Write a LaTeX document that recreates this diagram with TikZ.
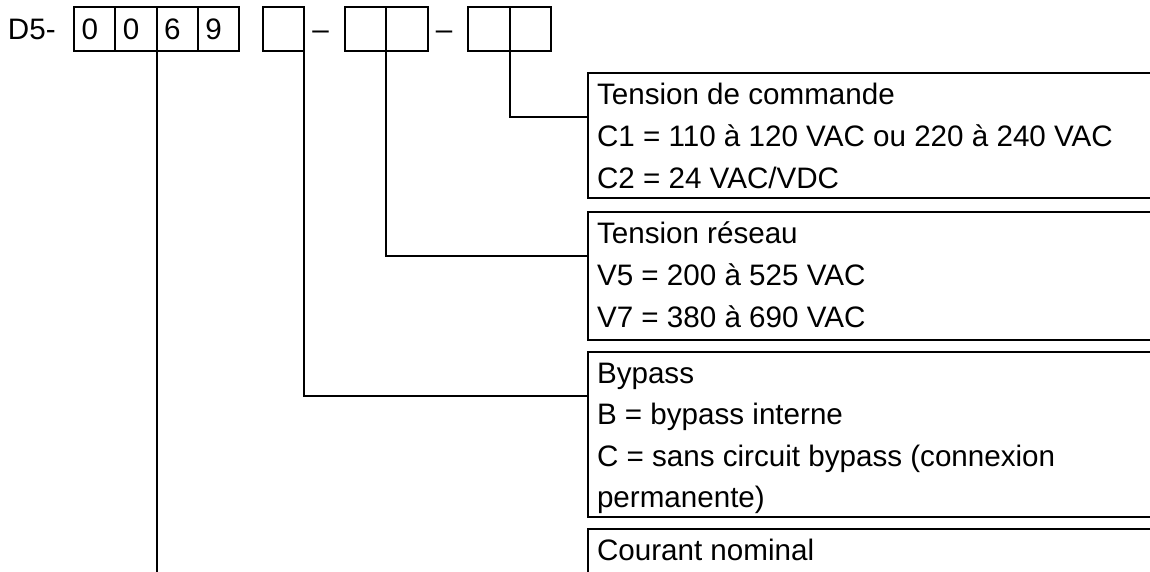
\documentclass[tikz,border=0pt]{standalone}
\usepackage{fontspec}
\setmainfont{Liberation Sans}
\begin{document}
\begin{tikzpicture}[x=1pt,y=-1pt,
  line width=2pt,
  cell/.style={draw, minimum width=41.3pt, minimum height=44pt, inner sep=0pt, outer sep=0pt, anchor=north west},
  box/.style={draw, minimum width=600pt, inner sep=0pt, outer sep=0pt, anchor=north west},
  txt/.style={inner sep=0pt, outer sep=0pt, anchor=base west, font=\fontsize{29.6}{35}\selectfont},
  link/.style={draw, line width=2pt}
]
\useasboundingbox (0,0) rectangle (1150,571);
% prefix
\node[txt] (pre) at (8,39.5) {D5-};
% group 1: 0069
\node[cell] (a1) at (74,7) {};
\node[cell] (a2) at (115.3,7) {};
\node[cell] (a3) at (156.6,7) {};
\node[cell] (a4) at (197.9,7) {};
\node[txt] (t1) at (81.5,39.5) {0};
\node[txt] (t2) at (122.8,39.5) {0};
\node[txt] (t3) at (164.1,39.5) {6};
\node[txt] (t4) at (205.4,39.5) {9};
% group 2
\node[cell] (b1) at (262.5,7) {};
\node[txt, anchor=base] (m1) at (320.5,39.5) {–};
% group 3
\node[cell] (c1) at (345,7) {};
\node[cell] (c2) at (386.3,7) {};
\node[txt, anchor=base] (m2) at (444,39.5) {–};
% group 4
\node[cell] (g1) at (468.3,7) {};
\node[cell] (g2) at (509.6,7) {};
% description boxes
\node[box, minimum height=125pt] (bc) at (588,73) {};
\node[box, minimum height=128pt] (br) at (588,212) {};
\node[box, minimum height=165pt] (bb) at (588,352) {};
\node[box, minimum height=100pt] (bn) at (588,529) {};
% texts
\node[txt] (bc1) at (597,104) {Tension de commande};
\node[txt] (bc2) at (597,146) {C1 = 110 à 120 VAC ou 220 à 240 VAC};
\node[txt] (bc3) at (597,188) {C2 = 24 VAC/VDC};
\node[txt] (br1) at (597,243.5) {Tension réseau};
\node[txt] (br2) at (597,285.5) {V5 = 200 à 525 VAC};
\node[txt] (br3) at (597,327) {V7 = 380 à 690 VAC};
\node[txt] (bb1) at (597,383) {Bypass};
\node[txt] (bb2) at (597,424.5) {B = bypass interne};
\node[txt] (bb3) at (597,466) {C = sans circuit bypass (connexion};
\node[txt] (bb4) at (597,507.5) {permanente)};
\node[txt] (bn1) at (597,560) {Courant nominal};
% connectors
\coordinate (jc) at (588,117);
\coordinate (jr) at (588,256);
\coordinate (jb) at (588,396);
\coordinate (bot) at (0,580);
\draw[link] (g1.south east) |- (jc);
\draw[link] (c1.south east) |- (jr);
\draw[link] (b1.south east) |- (jb);
\draw[link] (a2.south east) -- (a2.south east |- bot);
\end{tikzpicture}
\end{document}
